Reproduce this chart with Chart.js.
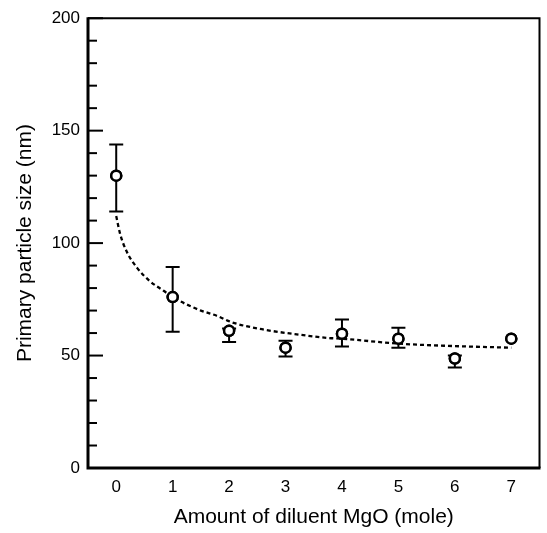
<!DOCTYPE html>
<html>
<head>
<meta charset="utf-8">
<script src="https://cdn.jsdelivr.net/npm/chart.js@4.4.1/dist/chart.umd.min.js"></script>
<style>
  html, body { margin: 0; padding: 0; background: #fff; }
  #wrap { width: 547px; height: 533px; }
</style>
</head>
<body>
<div id="wrap"><canvas id="c" width="547" height="533"></canvas></div>
<script>
const moles = [0, 1, 2, 3, 4, 5, 6, 7];
const sizes = [130, 76, 61, 53.5, 59.7, 57.5, 48.7, 57.5];
const errLow = [114, 60.6, 56, 49.6, 54, 53.5, 44.7, 57.5];
const errHigh = [143.8, 89.4, 62, 56.6, 66, 62.4, 50, 57.5];
// Dashed trend curve
const curveX = [0, 0.07, 0.19, 0.37, 0.6, 0.84, 1.0, 1.31, 1.5, 1.78, 2.06, 2.65, 3.24, 3.77, 4.0, 5.0, 6.0, 7.0];
const curveY = [112, 104, 96, 89, 83, 78.8, 76, 72, 70, 67.7, 64.7, 61.4, 59.3, 57.8, 57.5, 55.3, 54.2, 53.5];
const xTicks = [0, 1, 2, 3, 4, 5, 6, 7];
const yMajorTicks = [0, 50, 100, 150, 200];

const FONT = "'Liberation Sans', Arial, sans-serif";

const framePlugin = {
  id: 'frame',
  afterDatasetsDraw(chart) {
    const {ctx, chartArea: a, scales} = chart;
    const x = scales.x, y = scales.y;
    ctx.save();
    ctx.strokeStyle = '#000';
    // error bars
    ctx.lineWidth = 2;
    moles.forEach((m, i) => {
      if (errHigh[i] === errLow[i]) return;
      const px = x.getPixelForValue(m);
      const pl = y.getPixelForValue(errLow[i]);
      const ph = y.getPixelForValue(errHigh[i]);
      const cap = 7;
      ctx.beginPath();
      ctx.moveTo(px, ph); ctx.lineTo(px, pl);
      ctx.moveTo(px - cap, ph); ctx.lineTo(px + cap, ph);
      ctx.moveTo(px - cap, pl); ctx.lineTo(px + cap, pl);
      ctx.stroke();
    });
    // redraw markers on top of error bars
    const meta = chart.getDatasetMeta(1);
    meta.data.forEach(pt => {
      ctx.beginPath();
      ctx.arc(pt.x, pt.y, 5, 0, Math.PI * 2);
      ctx.fillStyle = '#fff';
      ctx.fill();
      ctx.lineWidth = 2.5;
      ctx.stroke();
    });
    // inward y ticks
    y.ticks.forEach(t => {
      const py = y.getPixelForValue(t.value);
      const major = yMajorTicks.includes(t.value);
      ctx.lineWidth = 2;
      ctx.beginPath();
      ctx.moveTo(a.left, py);
      ctx.lineTo(a.left + (major ? 15 : 9), py);
      ctx.stroke();
    });
    // frame
    ctx.lineWidth = 2;
    ctx.beginPath();
    ctx.moveTo(a.left, a.top); ctx.lineTo(a.right, a.top); ctx.lineTo(a.right, a.bottom);
    ctx.stroke();
    ctx.lineWidth = 3;
    ctx.beginPath();
    ctx.moveTo(a.left, a.top - 1); ctx.lineTo(a.left, a.bottom); ctx.lineTo(a.right + 1, a.bottom);
    ctx.stroke();
    ctx.restore();
  }
};

new Chart(document.getElementById('c'), {
  type: 'scatter',
  data: {
    datasets: [
      {
        type: 'line',
        data: curveX.map((v, i) => ({x: v, y: curveY[i]})),
        borderColor: '#000',
        borderWidth: 2.3,
        borderDash: [4, 3],
        pointRadius: 0,
        fill: false,
        cubicInterpolationMode: 'monotone'
      },
      {
        data: moles.map((m, i) => ({x: m, y: sizes[i]})),
        pointRadius: 5,
        borderWidth: 2.5,
        borderColor: '#000',
        backgroundColor: '#fff'
      }
    ]
  },
  options: {
    responsive: false,
    animation: false,
    devicePixelRatio: 1,
    layout: { padding: { left: 0, right: 7, top: 16, bottom: 0 } },
    plugins: { legend: { display: false }, tooltip: { enabled: false } },
    scales: {
      x: {
        type: 'linear',
        min: -0.5, max: 7.5,
        afterBuildTicks: s => { s.ticks = xTicks.map(v => ({value: v})); },
        afterFit: s => { s.height = 65; },
        grid: { display: false, drawTicks: false },
        border: { display: false },
        ticks: { color: '#000', font: { family: FONT, size: 17 }, padding: 9 },
        title: { display: true, text: 'Amount of diluent MgO (mole)', color: '#000',
                 font: { family: FONT, size: 21 }, padding: { top: 2, bottom: 3.5 } }
      },
      y: {
        min: 0, max: 200,
        ticks: {
          stepSize: 10,
          color: '#000',
          font: { family: FONT, size: 17 },
          padding: 8,
          autoSkip: false,
          callback: v => (yMajorTicks.includes(v) ? String(v) : '')
        },
        afterFit: s => { s.width = 88; },
        grid: { display: false, drawTicks: false },
        border: { display: false },
        title: { display: true, text: 'Primary particle size (nm)', color: '#000',
                 font: { family: FONT, size: 21 }, padding: { top: 12.5, bottom: 2 } }
      }
    }
  },
  plugins: [framePlugin]
});
</script>
</body>
</html>
